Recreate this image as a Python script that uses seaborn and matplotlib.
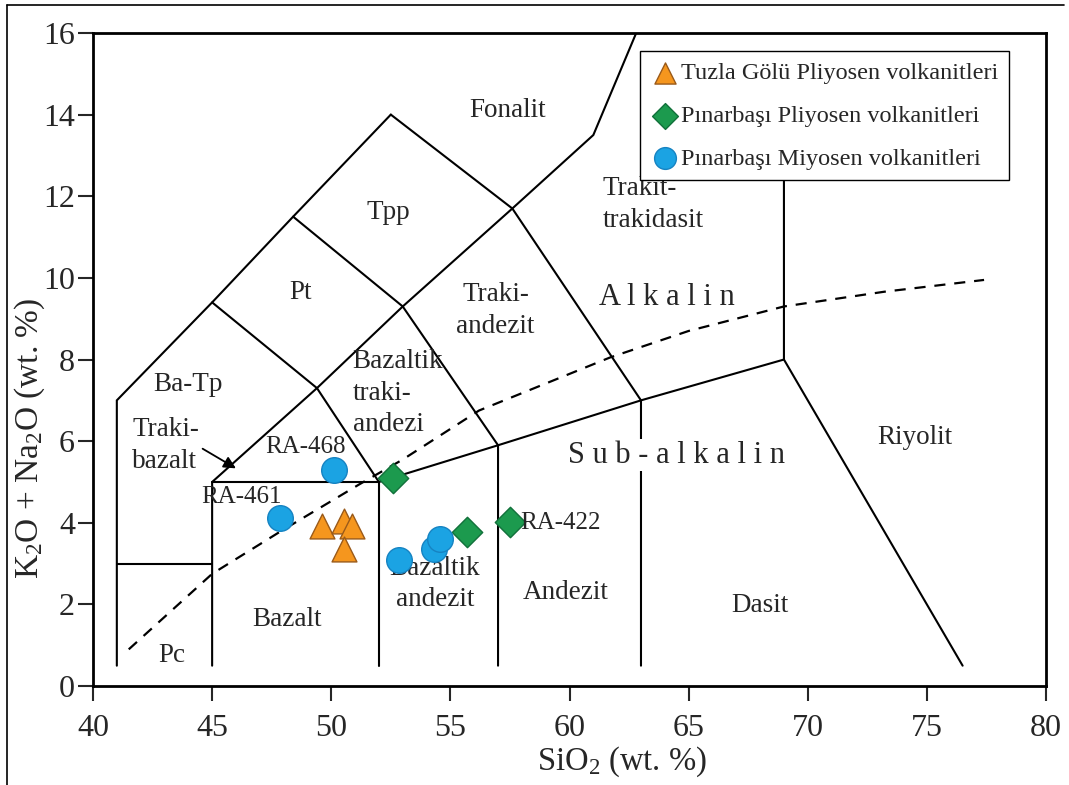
import matplotlib
matplotlib.use("Agg")
import matplotlib.pyplot as plt
import seaborn as sns
import pandas as pd
from matplotlib.lines import Line2D

# ---------------- data ----------------
tri_sio2 = [49.6, 50.55, 50.85, 50.55]
tri_alk = [3.92, 4.05, 3.92, 3.35]
dia_sio2 = [52.6, 55.7, 57.5]
dia_alk = [5.1, 3.78, 4.02]
cir_sio2 = [50.1, 47.85, 52.85, 54.3, 54.55]
cir_alk = [5.3, 4.12, 3.08, 3.35, 3.6]

series_names = ["Tuzla Gölü Pliyosen volkanitleri",
                "Pınarbaşı Pliyosen volkanitleri",
                "Pınarbaşı Miyosen volkanitleri"]

# TAS field boundaries (polylines, SiO2 / total alkali)
boundaries = [
    [(41, 0.5), (41, 7), (45, 9.4), (48.4, 11.5), (52.5, 14)],
    [(41, 3), (45, 3)],
    [(45, 0.5), (45, 5), (49.4, 7.3), (53, 9.3), (57.6, 11.7), (61, 13.5), (62.8, 16)],
    [(45, 5), (52, 5), (52, 0.5)],
    [(52, 5), (57, 5.9), (63, 7), (69, 8)],
    [(57, 0.5), (57, 5.9), (53, 9.3), (48.4, 11.5)],
    [(52, 5), (49.4, 7.3), (45, 9.4)],
    [(63, 0.5), (63, 7), (57.6, 11.7), (52.5, 14)],
    [(69, 12.6), (69, 8), (76.5, 0.5)],
]

# Irvine & Baragar alkaline / sub-alkaline divide
div_sio2 = [41.5, 45.0, 47.9, 51.2, 53.0, 56.2, 61.7, 65.0, 69.0, 73.2, 77.4]
div_alk = [0.9, 2.75, 3.8, 4.95, 5.55, 6.75, 8.05, 8.7, 9.3, 9.66, 9.95]

field_labels = [
    ("Fonalit", 57.4, 14.1, "center"),
    ("Tpp", 52.4, 11.6, "center"),
    ("Trakit-\ntrakidasit", 61.4, 11.8, "left"),
    ("Pt", 48.7, 9.63, "center"),
    ("Traki-\nandezit", 56.9, 9.2, "center"),
    ("Ba-Tp", 44.0, 7.38, "center"),
    ("Bazaltik\ntraki-\nandezi", 50.9, 7.18, "left"),
    ("Traki-\nbazalt", 41.65, 5.9, "left"),
    ("Riyolit", 74.5, 6.1, "center"),
    ("Bazalt", 48.15, 1.62, "center"),
    ("Bazaltik\nandezit", 54.35, 2.5, "center"),
    ("Andezit", 59.85, 2.3, "center"),
    ("Dasit", 68.0, 1.98, "center"),
    ("Pc", 43.3, 0.76, "center"),
]
sample_labels = [("RA-468", 48.9, 5.86, "center"),
                 ("RA-461", 46.25, 4.63, "center"),
                 ("RA-422", 57.95, 4.0, "left")]

# ---------------- style ----------------
sns.set_theme(style="white")
plt.rcParams["font.family"] = ["Liberation Serif", "DejaVu Serif"]
plt.rcParams["mathtext.fontset"] = "custom"
plt.rcParams["mathtext.rm"] = "Liberation Serif"
plt.rcParams["mathtext.it"] = "Liberation Serif:italic"

fig = plt.figure(figsize=(10.69, 7.85), dpi=100)
ax = fig.add_axes([0.087, 0.126, 0.8915, 0.832])

for line in boundaries:
    xs, ys = zip(*line)
    ax.plot(xs, ys, color="black", lw=1.5, zorder=2, solid_joinstyle="miter")

ax.plot(div_sio2, div_alk, color="black", lw=1.6, ls=(0, (5, 4)), zorder=2)

df = pd.concat([
    pd.DataFrame({"SiO2": tri_sio2, "Alk": tri_alk, "grp": series_names[0]}),
    pd.DataFrame({"SiO2": dia_sio2, "Alk": dia_alk, "grp": series_names[1]}),
    pd.DataFrame({"SiO2": cir_sio2, "Alk": cir_alk, "grp": series_names[2]}),
])
styles = {
    series_names[0]: dict(marker="^", color="#F5961E", edgecolor="#9A5A1A", s=320),
    series_names[1]: dict(marker="D", color="#1C9A4E", edgecolor="#11703A", s=240),
    series_names[2]: dict(marker="o", color="#1BA3E3", edgecolor="#1683C2", s=340),
}
for name in series_names:
    sub = df[df["grp"] == name]
    st = styles[name]
    sns.scatterplot(data=sub, x="SiO2", y="Alk", ax=ax, marker=st["marker"],
                    color=st["color"], edgecolor=st["edgecolor"], linewidth=1,
                    s=st["s"], zorder=5, label=name)

fs = 19.5
for txt, x, y, ha in field_labels:
    ax.text(x, y, txt, ha=ha, va="center", fontsize=fs, linespacing=1.35, zorder=3)
for txt, x, y, ha in sample_labels:
    ax.text(x, y, txt, ha=ha, va="center", fontsize=18, zorder=6)

ax.text(64.1, 9.53, "A l k a l i n", ha="center", va="center", fontsize=22, zorder=3)
ax.text(64.5, 5.66, "S u b - a l k a l i n", ha="center", va="center", fontsize=22, zorder=3,
        bbox=dict(facecolor="white", edgecolor="none", pad=1))

ax.annotate("", xy=(46.1, 5.3), xytext=(44.5, 5.85),
            arrowprops=dict(arrowstyle="-|>", color="black", lw=1.3, mutation_scale=18),
            zorder=4)

ax.set_xlim(40, 80)
ax.set_ylim(0, 16)
ax.set_xticks(range(40, 81, 5))
ax.set_yticks(range(0, 17, 2))
ax.tick_params(axis="both", direction="out", length=11, width=1.5, labelsize=23,
               bottom=True, left=True, top=False, right=False)
ax.tick_params(axis="x", pad=9)
ax.tick_params(axis="y", pad=2)
for sp in ax.spines.values():
    sp.set_color("black")
    sp.set_linewidth(2)
ax.set_xlabel("SiO$_2$ (wt. %)", fontsize=23.5)
ax.set_ylabel("K$_2$O + Na$_2$O (wt. %)", fontsize=24)
ax.xaxis.set_label_coords(0.555, -0.089)
ax.yaxis.set_label_coords(-0.048, 0.38)

leg = ax.legend(loc="upper right", bbox_to_anchor=(0.9615, 0.972), fontsize=17.5,
                frameon=True, fancybox=False, edgecolor="black", framealpha=1,
                handletextpad=0.05, borderpad=0.45, labelspacing=0.85, markerscale=0.85,
                handlelength=1.2, borderaxespad=0)
leg.get_frame().set_linewidth(1)
leg.set_zorder(10)

# figure border
fig.add_artist(Line2D([0.0065, 0.0065], [0, 0.994], transform=fig.transFigure, color="black", lw=1.2))
fig.add_artist(Line2D([0.0065, 0.995], [0.994, 0.994], transform=fig.transFigure, color="black", lw=1.2))

fig.savefig("out.png", dpi=100)
